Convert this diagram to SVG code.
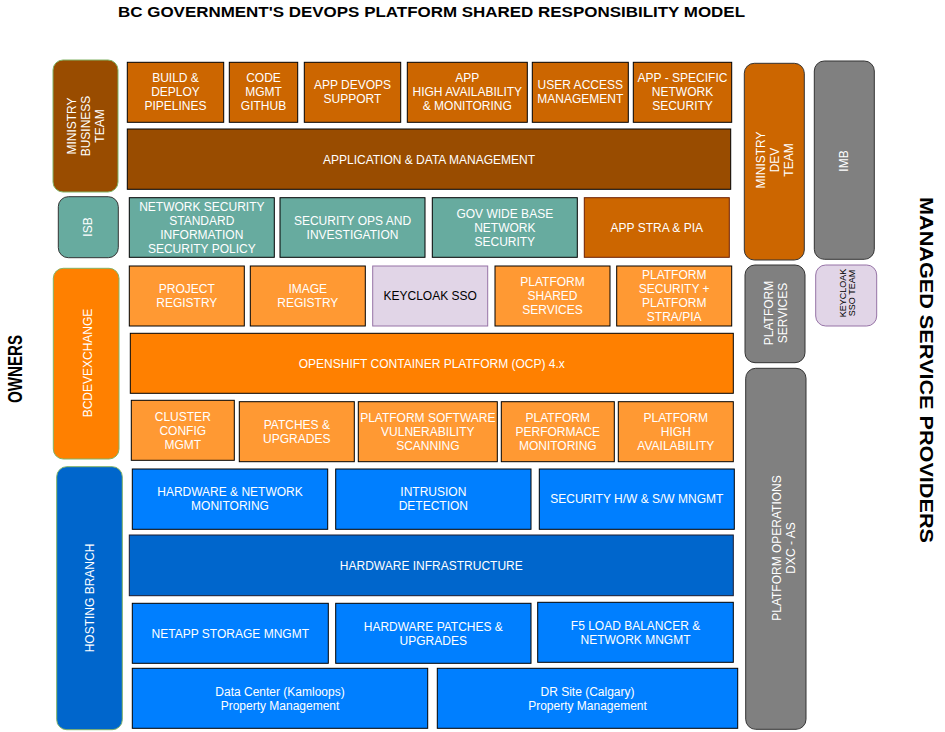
<svg xmlns="http://www.w3.org/2000/svg" width="945" height="732" viewBox="0 0 945 732">
<style>
  .t { font-family: "Liberation Sans", Arial, Helvetica, sans-serif; font-size: 12px; fill: #ffffff; text-anchor: middle; }
  .dk { fill: #000000; }
  .hd { font-family: "Liberation Sans", Arial, Helvetica, sans-serif; font-weight: bold; fill: #000000; }
  .b { stroke: #000000; stroke-width: 1; }
  .brown { fill: #994C00; }
  .org1 { fill: #CC6600; }
  .teal { fill: #67AB9F; }
  .lor { fill: #FF9933; }
  .or { fill: #FF8000; }
  .blue { fill: #007FFF; }
  .dblue { fill: #0066CC; }
  .grey { fill: #808080; stroke: #333333; stroke-width: 1; }
  .lav { fill: #E1D5E7; stroke: #9673A6; stroke-width: 1; }
  .own { stroke: #82B366; stroke-width: 1; }
</style>
<rect width="945" height="732" fill="#ffffff"/>

<text class="hd" x="118" y="17.3" font-size="14" textLength="627" lengthAdjust="spacingAndGlyphs">BC GOVERNMENT'S DEVOPS PLATFORM SHARED RESPONSIBILITY MODEL</text>
<text class="hd" font-size="20" text-anchor="middle" transform="translate(22,369) rotate(-90)" textLength="68" lengthAdjust="spacingAndGlyphs">OWNERS</text>
<text class="hd" font-size="19" text-anchor="middle" transform="translate(920,370) rotate(90)" textLength="346" lengthAdjust="spacingAndGlyphs">MANAGED SERVICE PROVIDERS</text>

<g id="connectors"></g>

<!-- Owners column -->
<g id="ministry-business-team">
  <rect x="53" y="60" width="65" height="132" rx="10" class="brown own"/>
  <text class="t" transform="translate(86,126) rotate(-90)"><tspan x="0" y="-9.7">MINISTRY</tspan><tspan x="0" y="4.3">BUSINESS</tspan><tspan x="0" y="18.3">TEAM</tspan></text>
</g>
<g id="isb">
  <rect x="58.3" y="196.7" width="60" height="61" rx="10" class="teal" stroke="#333333"/>
  <text class="t" transform="translate(88,227) rotate(-90)"><tspan x="0" y="4.3">ISB</tspan></text>
</g>
<g id="bcdevexchange">
  <rect x="53.3" y="268.3" width="65.7" height="190.7" rx="10" class="or own"/>
  <text class="t" transform="translate(87.3,363) rotate(-90)"><tspan x="0" y="4.3">BCDEVEXCHANGE</tspan></text>
</g>
<g id="hosting-branch">
  <rect x="56.7" y="466.7" width="65.6" height="263" rx="10" class="dblue own"/>
  <text class="t" transform="translate(89.3,598) rotate(-90)"><tspan x="0" y="4.3">HOSTING BRANCH</tspan></text>
</g>

<!-- Ministry rows -->
<g id="build-deploy">
  <rect x="127.3" y="62.3" width="96.4" height="60" class="org1 b"/>
  <text class="t"><tspan x="175.5" y="82.3">BUILD &amp;</tspan><tspan x="175.5" y="96.3">DEPLOY</tspan><tspan x="175.5" y="110.3">PIPELINES</tspan></text>
</g>
<g id="code-mgmt">
  <rect x="229.3" y="62.3" width="68.4" height="60" class="org1 b"/>
  <text class="t"><tspan x="263.5" y="82.3">CODE</tspan><tspan x="263.5" y="96.3">MGMT</tspan><tspan x="263.5" y="110.3">GITHUB</tspan></text>
</g>
<g id="app-devops">
  <rect x="304.3" y="62.3" width="96.4" height="60" class="org1 b"/>
  <text class="t"><tspan x="352.5" y="89.3">APP DEVOPS</tspan><tspan x="352.5" y="103.3">SUPPORT</tspan></text>
</g>
<g id="app-ha">
  <rect x="407.3" y="62.3" width="120" height="60" class="org1 b"/>
  <text class="t"><tspan x="467.3" y="82.3">APP</tspan><tspan x="467.3" y="96.3">HIGH AVAILABILITY</tspan><tspan x="467.3" y="110.3">&amp; MONITORING</tspan></text>
</g>
<g id="user-access">
  <rect x="532.3" y="62.3" width="96" height="60" class="org1 b"/>
  <text class="t"><tspan x="580.3" y="89.3">USER ACCESS</tspan><tspan x="580.3" y="103.3">MANAGEMENT</tspan></text>
</g>
<g id="app-network-security">
  <rect x="633.3" y="62.3" width="98.4" height="60" class="org1 b"/>
  <text class="t"><tspan x="682.5" y="82.3">APP - SPECIFIC</tspan><tspan x="682.5" y="96.3">NETWORK</tspan><tspan x="682.5" y="110.3">SECURITY</tspan></text>
</g>
<g id="app-data-mgmt">
  <rect x="127.3" y="129" width="603.4" height="60.3" class="brown b"/>
  <text class="t" x="429" y="163.5">APPLICATION &amp; DATA MANAGEMENT</text>
</g>

<!-- ISB row -->
<g id="network-security-standard">
  <rect x="129.3" y="197.7" width="145" height="59.6" class="teal b"/>
  <text class="t"><tspan x="201.8" y="211">NETWORK SECURITY</tspan><tspan x="201.8" y="225">STANDARD</tspan><tspan x="201.8" y="239">INFORMATION</tspan><tspan x="201.8" y="253">SECURITY POLICY</tspan></text>
</g>
<g id="security-ops">
  <rect x="280" y="197.7" width="145" height="59.6" class="teal b"/>
  <text class="t"><tspan x="352.5" y="224.8">SECURITY OPS AND</tspan><tspan x="352.5" y="238.8">INVESTIGATION</tspan></text>
</g>
<g id="gov-wide-network">
  <rect x="432.3" y="197.7" width="145" height="59.6" class="teal b"/>
  <text class="t"><tspan x="504.8" y="217.8">GOV WIDE BASE</tspan><tspan x="504.8" y="231.8">NETWORK</tspan><tspan x="504.8" y="245.8">SECURITY</tspan></text>
</g>
<g id="app-stra-pia">
  <rect x="584.3" y="197.7" width="145" height="59.6" class="org1" stroke="#6D1F00" stroke-width="1"/>
  <text class="t" x="656.8" y="231.8">APP STRA &amp; PIA</text>
</g>

<!-- Platform rows -->
<g id="project-registry">
  <rect x="129.3" y="266" width="115" height="60" class="lor b"/>
  <text class="t"><tspan x="186.8" y="293.3">PROJECT</tspan><tspan x="186.8" y="307.3">REGISTRY</tspan></text>
</g>
<g id="image-registry">
  <rect x="250.3" y="266" width="115" height="60" class="lor b"/>
  <text class="t"><tspan x="307.8" y="293.3">IMAGE</tspan><tspan x="307.8" y="307.3">REGISTRY</tspan></text>
</g>
<g id="keycloak-sso">
  <rect x="372.7" y="266" width="115" height="60" class="lav"/>
  <text class="t dk" x="430.2" y="300.3">KEYCLOAK SSO</text>
</g>
<g id="platform-shared-services">
  <rect x="495" y="266" width="115" height="60" class="lor b"/>
  <text class="t"><tspan x="552.5" y="286.3">PLATFORM</tspan><tspan x="552.5" y="300.3">SHARED</tspan><tspan x="552.5" y="314.3">SERVICES</tspan></text>
</g>
<g id="platform-security">
  <rect x="616.7" y="266" width="115" height="60" class="lor b"/>
  <text class="t"><tspan x="674.2" y="279.3">PLATFORM</tspan><tspan x="674.2" y="293.3">SECURITY +</tspan><tspan x="674.2" y="307.3">PLATFORM</tspan><tspan x="674.2" y="321.3">STRA/PIA</tspan></text>
</g>
<g id="openshift">
  <rect x="130.3" y="333.3" width="603" height="60" class="or b"/>
  <text class="t" x="431.8" y="367.6">OPENSHIFT CONTAINER PLATFORM (OCP) 4.x</text>
</g>
<g id="cluster-config">
  <rect x="131.3" y="400.3" width="103" height="60" class="lor b"/>
  <text class="t"><tspan x="182.8" y="420.6">CLUSTER</tspan><tspan x="182.8" y="434.6">CONFIG</tspan><tspan x="182.8" y="448.6">MGMT</tspan></text>
</g>
<g id="patches-upgrades">
  <rect x="239.3" y="401.7" width="115" height="60" class="lor b"/>
  <text class="t"><tspan x="296.8" y="429">PATCHES &amp;</tspan><tspan x="296.8" y="443">UPGRADES</tspan></text>
</g>
<g id="vuln-scanning">
  <rect x="358.3" y="401.7" width="139" height="60" class="lor b"/>
  <text class="t"><tspan x="427.8" y="422">PLATFORM SOFTWARE</tspan><tspan x="427.8" y="436">VULNERABILITY</tspan><tspan x="427.8" y="450">SCANNING</tspan></text>
</g>
<g id="perf-monitoring">
  <rect x="501.3" y="401.7" width="113" height="60" class="lor b"/>
  <text class="t"><tspan x="557.8" y="422">PLATFORM</tspan><tspan x="557.8" y="436">PERFORMACE</tspan><tspan x="557.8" y="450">MONITORING</tspan></text>
</g>
<g id="platform-ha">
  <rect x="618.3" y="401.7" width="115" height="60" class="lor b"/>
  <text class="t"><tspan x="675.8" y="422">PLATFORM</tspan><tspan x="675.8" y="436">HIGH</tspan><tspan x="675.8" y="450">AVAILABILITY</tspan></text>
</g>

<!-- Hosting rows -->
<g id="hw-network-monitoring">
  <rect x="132.3" y="469" width="195.4" height="60.3" class="blue b"/>
  <text class="t"><tspan x="230" y="496.3">HARDWARE &amp; NETWORK</tspan><tspan x="230" y="510.3">MONITORING</tspan></text>
</g>
<g id="intrusion-detection">
  <rect x="335.7" y="469" width="195.3" height="60.3" class="blue b"/>
  <text class="t"><tspan x="433.3" y="496.3">INTRUSION</tspan><tspan x="433.3" y="510.3">DETECTION</tspan></text>
</g>
<g id="security-hw-sw">
  <rect x="539.3" y="469" width="195" height="60.3" class="blue b"/>
  <text class="t" x="636.8" y="503.3">SECURITY H/W &amp; S/W MNGMT</text>
</g>
<g id="hardware-infrastructure">
  <rect x="129.3" y="535" width="604" height="60.7" class="dblue" stroke="#1A1A2E" stroke-width="1"/>
  <text class="t" x="431.3" y="569.6">HARDWARE INFRASTRUCTURE</text>
</g>
<g id="netapp-storage">
  <rect x="132.3" y="603.3" width="196" height="60" class="blue b"/>
  <text class="t" x="230.3" y="637.6">NETAPP STORAGE MNGMT</text>
</g>
<g id="hw-patches">
  <rect x="335.7" y="603.3" width="195.3" height="60" class="blue b"/>
  <text class="t"><tspan x="433.3" y="630.6">HARDWARE PATCHES &amp;</tspan><tspan x="433.3" y="644.6">UPGRADES</tspan></text>
</g>
<g id="f5-load-balancer">
  <rect x="537.7" y="602.3" width="195.6" height="60" class="blue b"/>
  <text class="t"><tspan x="635.5" y="629.6">F5 LOAD BALANCER &amp;</tspan><tspan x="635.5" y="643.6">NETWORK MNGMT</tspan></text>
</g>
<g id="data-center">
  <rect x="132.3" y="668.3" width="295.4" height="60" class="blue b"/>
  <text class="t"><tspan x="280" y="695.6">Data Center (Kamloops)</tspan><tspan x="280" y="709.6">Property Management</tspan></text>
</g>
<g id="dr-site">
  <rect x="437.3" y="668.3" width="300.4" height="60" class="blue b"/>
  <text class="t"><tspan x="587.5" y="695.6">DR Site (Calgary)</tspan><tspan x="587.5" y="709.6">Property Management</tspan></text>
</g>

<!-- Managed service providers -->
<g id="ministry-dev-team">
  <rect x="744.3" y="63.3" width="60" height="196.7" rx="10" class="org1" stroke="#333333" stroke-width="1"/>
  <text class="t" transform="translate(775,160) rotate(-90)"><tspan x="0" y="-9.7">MINISTRY</tspan><tspan x="0" y="4.3">DEV</tspan><tspan x="0" y="18.3">TEAM</tspan></text>
</g>
<g id="imb">
  <rect x="814.3" y="61" width="60" height="198.3" rx="10" class="grey"/>
  <text class="t" transform="translate(844,161) rotate(-90)"><tspan x="0" y="4.3">IMB</tspan></text>
</g>
<g id="platform-services">
  <rect x="745" y="265" width="60" height="97.7" rx="10" class="grey"/>
  <text class="t" transform="translate(775.5,313) rotate(-90)"><tspan x="0" y="-2.7">PLATFORM</tspan><tspan x="0" y="11.3">SERVICES</tspan></text>
</g>
<g id="keycloak-sso-team">
  <rect x="815.7" y="265" width="61" height="61" rx="10" class="lav"/>
  <text class="t dk" transform="translate(847,293) rotate(-90)" style="font-size:9px"><tspan x="0" y="-1.3">KEYCLOAK</tspan><tspan x="0" y="7.7">SSO TEAM</tspan></text>
</g>
<g id="platform-operations">
  <rect x="745.7" y="368.3" width="60.3" height="361" rx="10" class="grey"/>
  <text class="t" transform="translate(783.3,548) rotate(-90)"><tspan x="0" y="-2.7">PLATFORM OPERATIONS</tspan><tspan x="0" y="11.3">DXC - AS</tspan></text>
</g>
</svg>
